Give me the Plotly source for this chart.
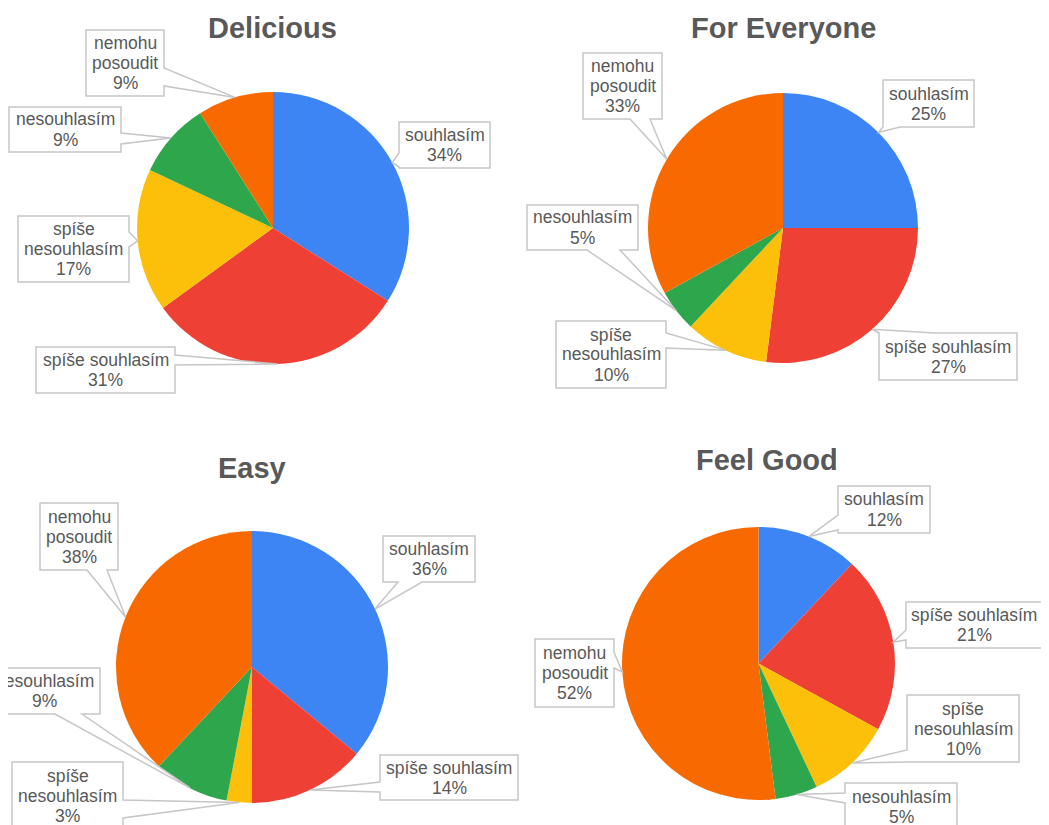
import math
import plotly.graph_objects as go

W, H = 1049, 825
OFF = 8  # page body margin of the html page

# ---------------- data ----------------
categories = ["souhlasím", "spíše souhlasím", "spíše nesouhlasím", "nesouhlasím", "nemohu posoudit"]
label_lines = [["souhlasím"], ["spíše souhlasím"], ["spíše", "nesouhlasím"], ["nesouhlasím"], ["nemohu", "posoudit"]]
titles = ["Delicious", "For Everyone", "Easy", "Feel Good"]
delicious = [34, 31, 17, 9, 9]
for_everyone = [25, 27, 10, 5, 33]
easy = [36, 14, 3, 9, 38]
feel_good = [12, 21, 10, 5, 52]
series = [delicious, for_everyone, easy, feel_good]

colors = ["#3D85F5", "#EE4034", "#FCC00A", "#2EA64C", "#F86A00"]
TEXT = "#595959"
BORDER = "#C6C6C6"
FONT = "Arial, Liberation Sans"

# ---------------- layout (pixels) ----------------
pies = [  # center x, center y, radius
    (273, 228, 136),
    (783, 228, 135),
    (252, 667, 136),
    (758.5, 663.5, 136.5),
]
title_pos = [(272, 28), (783, 28), (252, 468), (767, 460)]

# label boxes: x0, y0, x1, y1, side, base a, base b
boxes = [
    [(399, 122, 490, 168, "left", 153, 167),
     (36, 347, 175, 393, "right", 355, 365),
     (18, 216, 129, 282, "right", 232, 247),
     (9, 107, 121, 152, "right", 133, 144),
     (86, 30, 164, 96, "right", 68, 86)],
    [(883, 80, 974, 127, "bottom", 883, 900),
     (879, 333, 1017, 380, "top", 879, 935),
     (556, 321, 666, 388, "right", 333, 348),
     (527, 205, 638, 250, "bottom", 587, 620),
     (583, 53, 662, 119, "bottom", 630, 650)],
    [(383, 536, 475, 582, "bottom", 398, 422),
     (380, 755, 518, 800, "left", 782, 792),
     (12, 762, 123, 829, "right", 800, 818),
     (-12, 668, 100, 714, "bottom", 55, 82),
     (40, 503, 118, 570, "bottom", 87, 107)],
    [(838, 486, 930, 533, "left", 515, 530),
     (906, 602, 1042, 648, "left", 630, 640),
     (907, 695, 1019, 762, "left", 750, 762),
     (845, 783, 957, 830, "left", 793, 803),
     (535, 639, 614, 707, "right", 652, 668)],
]
LINE_H = 20


def px(x):
    return (x - OFF) / W


def py(y):
    return 1 - (y - OFF) / H


def P(x, y):
    return f"{px(x):.5f},{py(y):.5f}"


fig = go.Figure()
shapes = []
annotations = []

for i, vals in enumerate(series):
    cx, cy, r = pies[i]
    fig.add_trace(go.Pie(
        labels=categories, values=vals, sort=False, direction="clockwise",
        rotation=0, textinfo="none", hole=0,
        marker=dict(colors=colors, line=dict(width=0)),
        domain=dict(x=[px(cx - r), px(cx + r)], y=[py(cy + r), py(cy - r)]),
        showlegend=False,
    ))
    tx, ty = title_pos[i]
    annotations.append(dict(
        x=px(tx), y=py(ty), xref="paper", yref="paper", showarrow=False,
        text=f"<b>{titles[i]}</b>", font=dict(family=FONT, size=29, color=TEXT),
        xanchor="center", yanchor="middle",
    ))
    total = sum(vals)
    cum = 0
    for j, v in enumerate(vals):
        mid = (cum + v / 2) / total * 2 * math.pi
        cum += v
        tipx = cx + r * math.sin(mid)
        tipy = cy - r * math.cos(mid)
        x0, y0, x1, y1, side, a, b = boxes[i][j]
        T = P(tipx, tipy)
        if side == "left":
            path = f"M{P(x0,y0)} L{P(x1,y0)} L{P(x1,y1)} L{P(x0,y1)} L{P(x0,b)} L{T} L{P(x0,a)} Z"
        elif side == "right":
            path = f"M{P(x0,y0)} L{P(x1,y0)} L{P(x1,a)} L{T} L{P(x1,b)} L{P(x1,y1)} L{P(x0,y1)} Z"
        elif side == "top":
            path = f"M{P(x0,y0)} L{P(a,y0)} L{T} L{P(b,y0)} L{P(x1,y0)} L{P(x1,y1)} L{P(x0,y1)} Z"
        else:
            path = f"M{P(x0,y0)} L{P(x1,y0)} L{P(x1,y1)} L{P(b,y1)} L{T} L{P(a,y1)} L{P(x0,y1)} Z"
        shapes.append(dict(type="path", path=path, xref="paper", yref="paper",
                           fillcolor="white", line=dict(color=BORDER, width=1.5), layer="above"))
        lines = label_lines[j] + [f"{v}%"]
        n = len(lines)
        bcx, bcy = (x0 + x1) / 2, (y0 + y1) / 2
        for k, t in enumerate(lines):
            annotations.append(dict(
                x=px(bcx), y=py(bcy + (k - (n - 1) / 2) * LINE_H), xref="paper", yref="paper",
                showarrow=False, text=t,
                font=dict(family=FONT, size=17.5, color=TEXT),
                xanchor="center", yanchor="middle", align="center",
            ))

fig.update_layout(
    width=W, height=H, margin=dict(l=0, r=0, t=0, b=0),
    paper_bgcolor="white", plot_bgcolor="white",
    shapes=shapes, annotations=annotations, showlegend=False,
)
fig.write_html("out.html")
